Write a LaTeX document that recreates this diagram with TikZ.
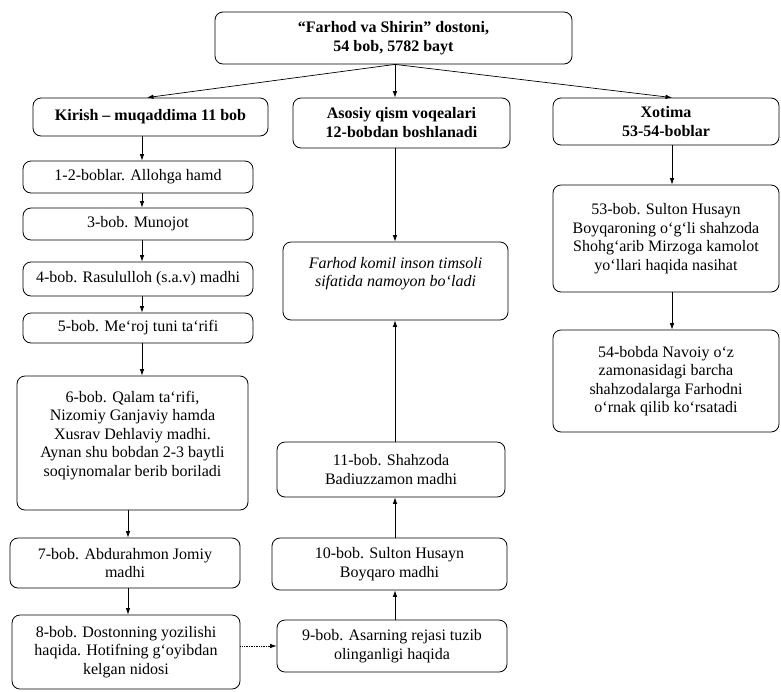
\documentclass[tikz,border=0pt]{standalone}
\usepackage{fontspec}
\setmainfont{Liberation Serif}
\usetikzlibrary{arrows.meta}
\tikzset{
  box/.style={draw, rounded corners=8pt, line width=0.8pt, align=center, inner sep=0pt,
    font=\fontsize{16}{18.5}\selectfont},
  bbox/.style={box, font=\fontsize{16}{19}\selectfont\bfseries},
  arr/.style={-{Latex[length=6.5pt,width=4.5pt]}, line width=0.7pt},
  darr/.style={arr, densely dotted}
}
\begin{document}
\begin{tikzpicture}[x=1pt,y=-1pt]
\useasboundingbox (0,0) rectangle (781,691);
% helper x positions
\coordinate (cl) at (142,0);
\coordinate (cl2) at (128,0);
\coordinate (cm) at (395,0);
\coordinate (cr) at (672,0);
\coordinate (ck) at (147,0);
% top
\node[bbox, minimum width=357pt, minimum height=52pt] (top) at (393.5,38) {``Farhod va Shirin'' dostoni,\\ 54 bob, 5782 bayt};
% headers
\node[bbox, minimum width=235pt, minimum height=38pt] (kir) at (150.5,117) {Kirish -- muqaddima 11 bob};
\node[bbox, minimum width=217pt, minimum height=50pt] (aso) at (401.5,123) {Asosiy qism voqealari\\ 12-bobdan boshlanadi};
\node[bbox, minimum width=226pt, minimum height=47pt] (xot) at (666,121.5) {Xotima\\ 53-54-boblar};
% left column
\node[box, minimum width=230pt, minimum height=32pt] (b12) at (138,177) {1-2-boblar. Allohga hamd};
\node[box, minimum width=230pt, minimum height=32pt] (b3) at (138,224) {3-bob. Munojot};
\node[box, minimum width=230pt, minimum height=34pt] (b4) at (138,279) {4-bob. Rasululloh (s.a.v) madhi};
\node[box, minimum width=230pt, minimum height=30pt] (b5) at (138,328) {5-bob. Me`roj tuni ta`rifi};
\node[box, minimum width=231pt, minimum height=134pt] (b6) at (132.5,443) {6-bob. Qalam ta`rifi,\\ Nizomiy Ganjaviy hamda\\ Xusrav Dehlaviy madhi.\\ Aynan shu bobdan 2-3 baytli\\ soqiynomalar berib boriladi\\ \mbox{}};
\node[box, minimum width=230pt, minimum height=50pt] (b7) at (125,563) {7-bob. Abdurahmon Jomiy\\ madhi};
\node[box, minimum width=228pt, minimum height=74pt] (b8) at (126,652) {8-bob. Dostonning yozilishi\\ haqida. Hotifning g`oyibdan\\ kelgan nidosi};
% middle column
\node[box, minimum width=225pt, minimum height=78pt] (far) at (395.5,281) {\itshape Farhod komil inson timsoli\\ \itshape sifatida namoyon bo`ladi\\ \mbox{}};
\node[box, minimum width=228pt, minimum height=55pt] (b11) at (391,469.5) {11-bob. Shahzoda\\ Badiuzzamon madhi};
\node[box, minimum width=235pt, minimum height=52pt] (b10) at (389.5,564) {10-bob. Sulton Husayn\\ Boyqaro madhi};
\node[box, minimum width=230pt, minimum height=52pt] (b9) at (392,646) {9-bob. Asarning rejasi tuzib\\ olinganligi haqida};
% right column
\node[box, minimum width=226pt, minimum height=107pt] (b53) at (666,238.5) {53-bob. Sulton Husayn\\ Boyqaroning o`g`li shahzoda\\ Shohg`arib Mirzoga kamolot\\ yo`llari haqida nasihat};
\node[box, minimum width=226pt, minimum height=102pt] (b54) at (666,381) {54-bobda Navoiy o`z\\ zamonasidagi barcha\\ shahzodalarga Farhodni\\ o`rnak qilib ko`rsatadi};
% connectors from top
\draw[arr] (top.south -| cm) -- (kir.north -| ck);
\draw[arr] (top.south -| cm) -- (aso.north -| cm);
\draw[arr] (top.south -| cm) -- (xot.north -| cr);
% left column
\draw[arr] (kir.south -| cl) -- (b12.north -| cl);
\draw[arr] (b12.south -| cl) -- (b3.north -| cl);
\draw[arr] (b3.south -| cl) -- (b4.north -| cl);
\draw[arr] (b4.south -| cl) -- (b5.north -| cl);
\draw[arr] (b5.south -| cl) -- (b6.north -| cl);
\draw[arr] (b6.south -| cl2) -- (b7.north -| cl2);
\draw[arr] (b7.south -| cl2) -- (b8.north -| cl2);
\draw[darr] (b8.east |- b9.west) -- (b9.west);
% middle column
\draw[arr] (aso.south -| cm) -- (far.north -| cm);
\draw[arr] (b11.north -| cm) -- (far.south -| cm);
\draw[arr] (b10.north -| cm) -- (b11.south -| cm);
\draw[arr] (b9.north -| cm) -- (b10.south -| cm);
% right column
\draw[arr] (xot.south -| cr) -- (b53.north -| cr);
\draw[arr] (b53.south -| cr) -- (b54.north -| cr);
\end{tikzpicture}
\end{document}
